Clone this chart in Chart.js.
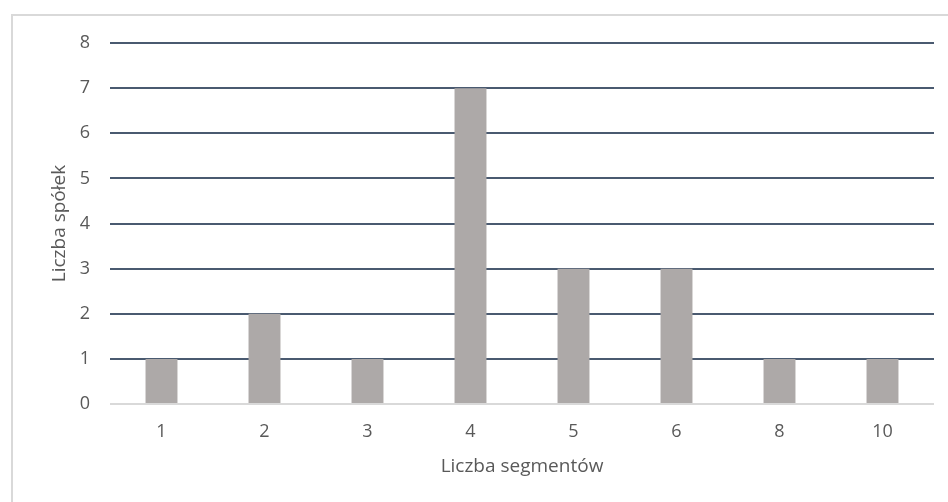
<!DOCTYPE html>
<html>
<head>
<meta charset="utf-8">
<script src="https://cdn.jsdelivr.net/npm/chart.js@4/dist/chart.umd.min.js"></script>
<style>
  html, body { margin: 0; padding: 0; background: #ffffff; overflow: hidden; }
  #wrap { position: relative; width: 948px; height: 502px; }
  #frame { position: absolute; left: 11px; top: 14px; width: 960px; height: 520px;
           border: 2px solid #D9D9D9; box-sizing: border-box; }
  #c { position: absolute; left: 0; top: 0; }
</style>
</head>
<body>
<div id="wrap">
  <div id="frame"></div>
  <canvas id="c" width="948" height="502"></canvas>
</div>
<script>
// Number of business segments per company
const segments = ['1', '2', '3', '4', '5', '6', '8', '10'];
const companies = [1, 2, 1, 7, 3, 3, 1, 1];
const yTicks = [0, 1, 2, 3, 4, 5, 6, 7, 8];

const FONT = "'Open Sans', 'Liberation Sans', sans-serif";
const TEXT = '#595959';

new Chart(document.getElementById('c'), {
  type: 'bar',
  data: {
    labels: segments,
    datasets: [{
      data: companies,
      backgroundColor: '#ADA9A8',
      borderWidth: 0,
      barPercentage: 0.31,
      categoryPercentage: 1.0
    }]
  },
  options: {
    responsive: false,
    animation: false,
    events: [],
    layout: { padding: { left: 48, right: 14, top: 43, bottom: 24 } },
    plugins: { legend: { display: false }, tooltip: { enabled: false } },
    scales: {
      x: {
        afterFit: (s) => { s.height = 74; },
        grid: { display: false, drawTicks: false },
        border: { display: false },
        ticks: { color: TEXT, font: { family: FONT, size: 18 }, padding: 17 },
        title: { display: true, text: 'Liczba segmentów', color: TEXT,
                 font: { family: FONT, size: 19 }, padding: { top: 0, bottom: 0 } }
      },
      y: {
        min: 0, max: 8,
        afterFit: (s) => { s.width = 62; },
        afterBuildTicks: (s) => { s.ticks = yTicks.map(v => ({ value: v })); },
        grid: {
          color: (ctx) => ctx.tick && ctx.tick.value === 0 ? '#D9D9D9' : '#4A5A70',
          lineWidth: 2,
          drawTicks: false
        },
        border: { display: false },
        ticks: { color: TEXT, font: { family: FONT, size: 18 }, padding: 20 },
        title: { display: true, text: 'Liczba spółek', color: TEXT,
                 font: { family: FONT, size: 19 }, padding: { top: 0, bottom: 0 } }
      }
    }
  }
});
</script>
</body>
</html>
